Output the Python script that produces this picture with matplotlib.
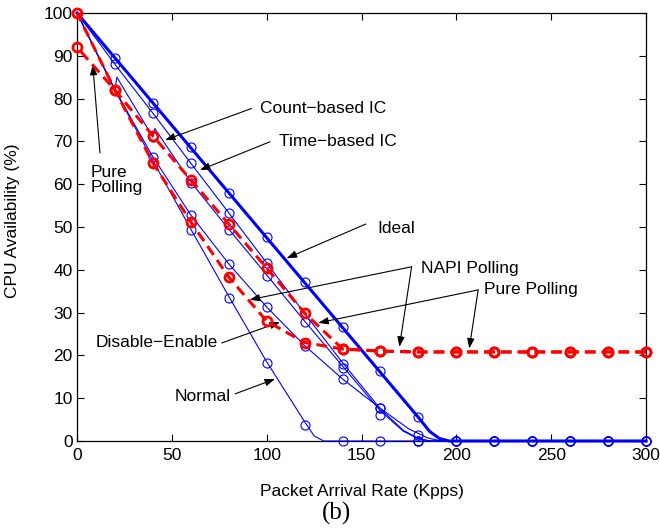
import matplotlib.pyplot as plt
import numpy as np

plt.rcParams['font.family'] = 'Liberation Sans'
plt.rcParams['font.size'] = 12.5

# measured points (circles), one every 20 Kpps
rate = np.arange(0, 301, 20)
ideal    = [100, 89.5, 79, 68.6, 58, 47.7, 37.1, 26.6, 16.3, 5.6, 0, 0, 0, 0, 0, 0]
time_ic  = [100, 88, 76.6, 64.9, 53.3, 41.6, 29.8, 18, 7.7, 1.4, 0, 0, 0, 0, 0, 0]
count_ic = [100, 82, 71, 60.3, 49.3, 38.6, 27.8, 17, 6.1, 0, 0, 0, 0, 0, 0, 0]
dis_en   = [100, 82, 66.4, 52.8, 41.4, 31.3, 22.3, 14.5, 7.7, 0, 0, 0, 0, 0, 0, 0]
normal   = [100, 82, 65.3, 49.3, 33.5, 18.3, 3.8, 0, 0, 0, 0, 0, 0, 0, 0, 0]
napi     = [100, 82, 65, 51.2, 38.3, 28, 23, 21.5, 21, 20.8, 20.8, 20.8, 20.8, 20.8, 20.8, 20.8]
pure     = [92, 82, 71.3, 61, 50.7, 40.4, 29.9, 21.5, 21, 20.8, 20.8, 20.8, 20.8, 20.8, 20.8, 20.8]

# fitted curves (blue lines)
ideal_fx = [0, 180, 186, 191, 196, 300]
ideal_fy = [100, 5.5, 2.2, 0.6, 0, 0]
time_fx = [0, 20, 40, 60, 80, 100, 120, 140, 160, 172, 180, 186, 300]
time_fy = [100, 88, 76.6, 64.9, 53.3, 41.6, 29.8, 18.3, 7.5, 2.5, 0.6, 0, 0]
count_fx = [0, 20, 21, 40, 41, 60, 80, 100, 120, 140, 160, 172, 180, 186, 300]
count_fy = [100, 82, 85, 71, 73, 60.5, 49.5, 38.8, 28, 17.5, 7, 2.3, 0.5, 0, 0]
de_fx = [0, 20, 40, 60, 80, 100, 120, 140, 160, 175, 185, 192, 300]
de_fy = [100, 82, 66.4, 52.8, 41.4, 31.3, 22.3, 14.5, 7.6, 2.8, 0.7, 0, 0]
normal_fx = [0, 20, 40, 60, 80, 100, 120, 125, 130, 300]
normal_fy = [100, 82, 65.5, 49.5, 33.8, 18.5, 4.5, 1.2, 0, 0]

blue = '#0000ff'
red = '#ff0000'

fig = plt.figure(figsize=(6.6, 5.28), dpi=100)
ax = fig.add_axes([0.1167, 0.1648, 0.8621, 0.8106])

ax.plot(ideal_fx, ideal_fy, color=blue, lw=2.2, clip_on=False, zorder=3)
for fx, fy in [(time_fx, time_fy), (count_fx, count_fy), (de_fx, de_fy), (normal_fx, normal_fy)]:
    ax.plot(fx, fy, color=blue, lw=0.8, clip_on=False, zorder=3)

for ys in [ideal, time_ic, count_ic, dis_en, normal]:
    ax.plot(rate, ys, 'o', color=blue, mfc='none', ms=6.5, mew=0.8, clip_on=False, zorder=4)

# drawn from the right end so the dashes of the shared flat part line up
for ys in [napi, pure]:
    ax.plot(rate[::-1], ys[::-1], '--', color=red, lw=2.2, dashes=(3.5, 2), clip_on=False, zorder=5)
    ax.plot(rate, ys, 'o', color=red, mfc='none', ms=6.5, mew=2, clip_on=False, zorder=6)

ax.set_xlim(0, 300)
ax.set_ylim(0, 100)
ax.set_xticks(np.arange(0, 301, 50))
ax.set_yticks(np.arange(0, 101, 10))
ax.tick_params(direction='in', top=True, right=True, length=5, width=0.8)
ax.tick_params(axis='y', pad=3)
ax.tick_params(axis='x', pad=5)
for s in ax.spines.values():
    s.set_linewidth(0.9)

ax.set_xlabel('Packet Arrival Rate (Kpps)')
ax.set_ylabel('CPU Availability (%)')
ax.xaxis.set_label_coords(0.5, -0.1)
ax.yaxis.set_label_coords(-0.1, 0.514)

ap = dict(arrowstyle='-|>,head_length=0.5,head_width=0.18', color='k', lw=0.8,
          mutation_scale=12, shrinkA=0, shrinkB=0)

ax.annotate('', xy=(46.4, 70.3), xytext=(92.1, 77.7), arrowprops=ap)
ax.text(96.5, 77.8, 'Count\u2212based IC', va='center', ha='left')
ax.annotate('', xy=(64.8, 63.3), xytext=(101.7, 69.9), arrowprops=ap)
ax.text(106.5, 70.0, 'Time\u2212based IC', va='center', ha='left')
ax.annotate('', xy=(8.3, 87.9), xytext=(12.1, 67.3), arrowprops=ap)
ax.text(7.3, 61.0, 'Pure\nPolling', va='center', ha='left', linespacing=1.0)
ax.annotate('', xy=(110.5, 42.7), xytext=(152.3, 50.7), arrowprops=ap)
ax.text(158.5, 49.6, 'Ideal', va='center', ha='left')
ax.annotate('', xy=(91, 33), xytext=(176.4, 40.7), arrowprops=ap)
ax.annotate('', xy=(170, 22), xytext=(176.4, 40.7), arrowprops=ap)
ax.text(181.4, 40.4, 'NAPI Polling', va='center', ha='left')
ax.annotate('', xy=(127.2, 27.6), xytext=(211.5, 35.3), arrowprops=ap)
ax.annotate('', xy=(206.8, 21.6), xytext=(211.5, 35.3), arrowprops=ap)
ax.text(214.6, 35.5, 'Pure Polling', va='center', ha='left')
ax.annotate('', xy=(107, 27.8), xytext=(76.3, 22.9), arrowprops=ap)
ax.text(74.3, 22.9, 'Disable\u2212Enable', va='center', ha='right')
ax.annotate('', xy=(104.4, 14.5), xytext=(83.3, 11), arrowprops=ap)
ax.text(81.3, 10.4, 'Normal', va='center', ha='right')

fig.text(0.51, 0.028, '(b)', family='Liberation Serif', fontsize=18, ha='center', va='center')

fig.savefig('out.png', dpi=100)
